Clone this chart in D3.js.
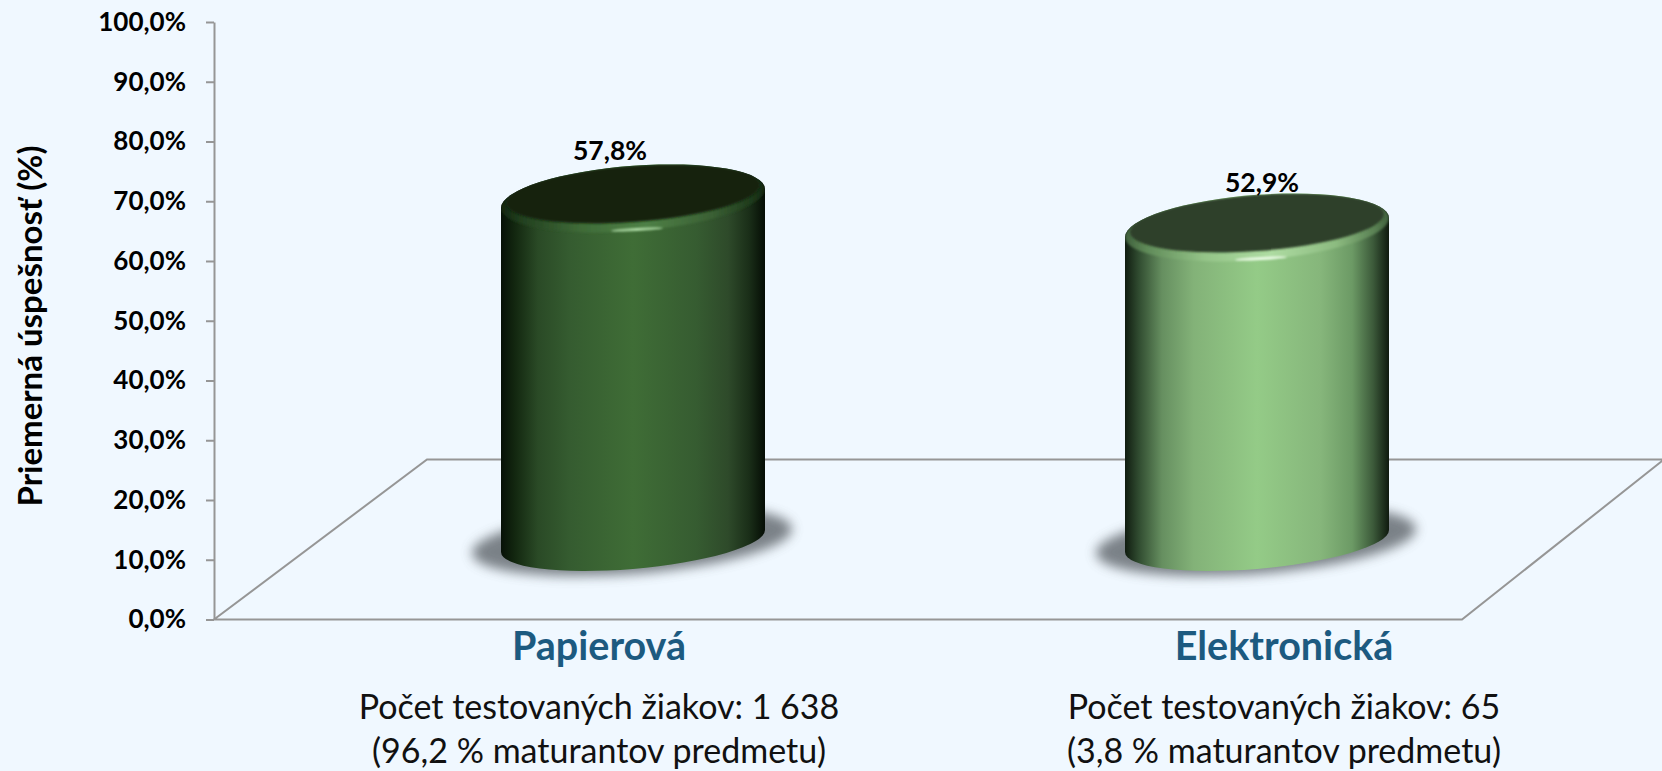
<!DOCTYPE html>
<html><head><meta charset="utf-8">
<script src="https://cdn.jsdelivr.net/npm/d3@7"></script>
<style>html,body{margin:0;padding:0;background:#f0f8ff;overflow:hidden}svg{display:block}text{font-family:Lato,"Open Sans",sans-serif}</style>
</head><body><svg id="c" width="1662" height="771"></svg>
<script>
const categories = ["Papierová", "Elektronická"];
const values = [57.8, 52.9];
const valueLabels = ["57,8%", "52,9%"];
const ticks = [0,10,20,30,40,50,60,70,80,90,100];
const tickLabels = ["0,0%","10,0%","20,0%","30,0%","40,0%","50,0%","60,0%","70,0%","80,0%","90,0%","100,0%"];
const noteLine1 = ["Počet testovaných žiakov: 1 638", "Počet testovaných žiakov: 65"];
const noteLine2 = ["(96,2 % maturantov predmetu)", "(3,8 % maturantov predmetu)"];
const axisTitle = "Priemerná úspešnosť (%)";
const bodyStops = [
 [["0","#071107"],["0.05","#12260f"],["0.14","#2a4a26"],["0.26","#355c30"],["0.5","#3f6d36"],["0.74","#365c31"],["0.86","#2e4a2a"],["0.94","#1a2e18"],["1","#050d05"]],
 [["0","#101c10"],["0.05","#2f4a2f"],["0.14","#668f60"],["0.26","#83b278"],["0.5","#94cb87"],["0.74","#86b67b"],["0.86","#6c9a65"],["0.94","#3c5a3a"],["1","#0f1a0f"]]
];
const rimStops = [
 [["0","#12260f"],["0.08","#22401f"],["0.3","#3f6b38"],["0.55","#4e8046"],["0.8","#3a6034"],["0.95","#1e3a1b"],["1","#12260f"]],
 [["0","#3f5f3c"],["0.08","#5f8a58"],["0.3","#94c488"],["0.55","#aedca2"],["0.8","#8cbb80"],["0.95","#587f52"],["1","#3f5f3c"]]
];
const topColors = ["#12240f","#2e402a"];
const highlightColors = ["#b4e0ac","#f4fff0"];

const W=1662,H=771;
const svg=d3.select("#c");
svg.append("rect").attr("width",W).attr("height",H).attr("fill","#f0f8ff");
const y=d3.scaleLinear().domain([0,100]).range([619.5,22]);
const depthX=213, depthY=160;
const x=d3.scaleBand().domain(categories).range([214,1462]);
const labelX=d3.scalePoint().domain(categories).range([599,1284]);
const valueX=d3.scalePoint().domain(categories).range([610,1262]);
const line="#969696";
const defs=svg.append("defs");
const blur=(id,s)=>defs.append("filter").attr("id",id).attr("x","-30%").attr("y","-60%").attr("width","160%").attr("height","220%").append("feGaussianBlur").attr("stdDeviation",s);
blur("sh",6);blur("rimb",3);blur("hb",1.1);

const x0=x.range()[0],x1=x.range()[1],y0=y(0);
svg.append("path").attr("d",`M${x0},${y0}L${x1},${y0}L${W+2},${y0-depthY}L${x0+depthX},${y0-depthY}Z`)
 .attr("fill","none").attr("stroke",line).attr("stroke-width",2);
const axis=d3.axisLeft(y).tickValues(ticks).tickSize(8).tickFormat((d,i)=>tickLabels[i]).tickSizeOuter(0);
const ga=svg.append("g").attr("transform",`translate(${x0},0)`).call(axis);
ga.selectAll("path,line").attr("stroke",line).attr("stroke-width",2);
ga.selectAll("text").attr("x",-28).attr("fill","#000").attr("font-size",26).attr("font-weight",700);
svg.append("text").attr("transform","translate(30,326) rotate(-90)").attr("text-anchor","middle").attr("dy","0.35em")
 .attr("font-size",33).attr("font-weight",700).text(axisTitle);

function ell(cx,cy,sx,sy,dy){
 const sxy=dy*sx,t=0.5*Math.atan2(2*sxy,sx*sx-sy*sy),c=Math.cos(t),s=Math.sin(t);
 const a=Math.sqrt(sx*sx*c*c+2*sxy*s*c+sy*sy*s*s),b=Math.sqrt(sx*sx*s*s-2*sxy*s*c+sy*sy*c*c);
 return {cx,cy,a,b,rot:t*180/Math.PI,sx,dy,
  full:`M${cx-sx},${cy-dy}A${a},${b},${t*180/Math.PI},1,0,${cx+sx},${cy+dy}A${a},${b},${t*180/Math.PI},1,0,${cx-sx},${cy-dy}Z`};
}
const halfW=132;
const baseCy=y(0)-78.5;
const labelLift=[38.8,35.4];
categories.forEach((cat,i)=>{
 const cx=x(cat)+x.bandwidth()/2+107;
 const h=(y(0)-y(values[i]))*0.992;
 const base=ell(cx,baseCy,halfW,30,-11);
 const top=ell(cx,baseCy-h,halfW,34,-9.5);
 const g=svg.append("g");
 const gid="g"+i, rid="r"+i;
 const lg=defs.append("linearGradient").attr("id",gid).attr("x1",0).attr("x2",1).attr("y1",0).attr("y2",0);
 bodyStops[i].forEach(s=>lg.append("stop").attr("offset",s[0]).attr("stop-color",s[1]));
 const rg0=defs.append("linearGradient").attr("id",rid).attr("x1",0).attr("x2",1).attr("y1",0).attr("y2",0);
 rimStops[i].forEach(s=>rg0.append("stop").attr("offset",s[0]).attr("stop-color",s[1]));
 g.append("path").attr("d",ell(cx-1,baseCy,160,35,-12).full).attr("fill","#5a6066").attr("opacity",.78).attr("filter","url(#sh)");
 const tRot=top.rot,bRot=base.rot;
 const body=`M${cx-halfW},${top.cy-top.dy}L${cx-halfW},${base.cy-base.dy}A${base.a},${base.b},${bRot},0,0,${cx+halfW},${base.cy+base.dy}L${cx+halfW},${top.cy+top.dy}A${top.a},${top.b},${tRot},0,0,${cx-halfW},${top.cy-top.dy}Z`;
 g.append("path").attr("d",body).attr("fill",`url(#${gid})`);
 const cid="clip"+i;
 defs.append("clipPath").attr("id",cid).append("path").attr("d",body+top.full);
 const inner=ell(cx,top.cy-4.5,127,29.5,-9);
 const rg=g.append("g").attr("clip-path",`url(#${cid})`);
 rg.append("path").attr("d",top.full).attr("fill",`url(#${rid})`).attr("filter","url(#hb)");
 rg.append("path").attr("d",inner.full).attr("fill",topColors[i]).attr("filter","url(#hb)");
 rg.append("ellipse").attr("cx",cx+4).attr("cy",top.cy+31).attr("rx",26).attr("ry",1.3)
   .attr("transform",`rotate(-3 ${cx+4} ${top.cy+31})`).attr("fill",highlightColors[i]).attr("filter","url(#hb)");
 g.append("text").attr("x",valueX(cat)).attr("y",top.cy-labelLift[i]).attr("text-anchor","middle")
  .attr("font-size",26.5).attr("font-weight",700).attr("fill","#000").text(valueLabels[i]);
 const lx=labelX(cat);
 svg.append("text").attr("x",lx).attr("y",660).attr("text-anchor","middle").attr("font-size",39.5).attr("font-weight",700).attr("fill","#1c5a80").text(cat);
 svg.append("text").attr("x",lx).attr("y",719).attr("text-anchor","middle").attr("font-size",34).attr("fill","#111").text(noteLine1[i]);
 svg.append("text").attr("x",lx).attr("y",763).attr("text-anchor","middle").attr("font-size",34).attr("fill","#111").text(noteLine2[i]);
});
</script></body></html>
